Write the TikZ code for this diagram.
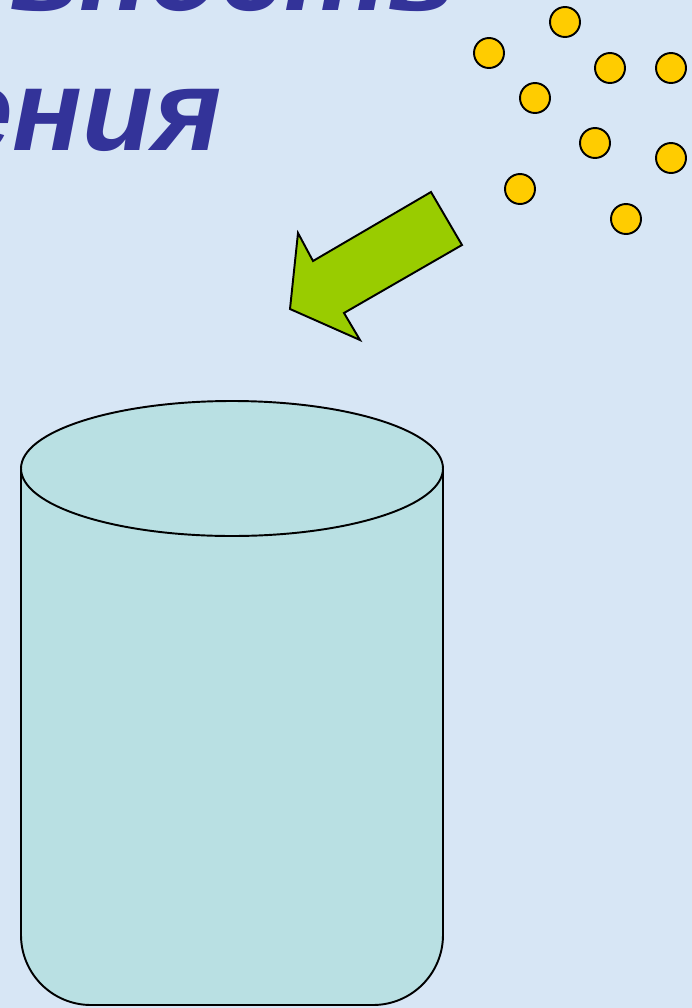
\documentclass[tikz,border=0pt]{standalone}
\usepackage{fontspec}
\setmainfont{Liberation Sans}
\definecolor{bgblue}{RGB}{215,230,245}
\definecolor{titleblue}{RGB}{51,51,153}
\definecolor{dotyellow}{RGB}{255,204,0}
\definecolor{arrowgreen}{RGB}{153,204,0}
\definecolor{jarcyan}{RGB}{185,224,227}
\tikzset{
  dot/.style={draw=black,line width=1.1pt,fill=dotyellow},
  title/.style={text=titleblue,font=\fontsize{66}{70}\selectfont\bfseries\itshape,inner sep=0pt}
}
\begin{document}
\begin{tikzpicture}[x=0.02cm,y=-0.02cm]
  \useasboundingbox (0,0) rectangle (692,1008);
  \clip (0,0) rectangle (692,1008);
  \fill[bgblue] (0,0) rectangle (692,1008);
  % title, cut off at the page edge
  \node[title,anchor=base east] (line1) at (457,10) {вность};
  \node[title,anchor=base east] (line2) at (222,150) {ения};
  % particles
  \foreach \px/\py in {565/22,489/53,610/68,671/68,535/98,595/143,671/158,520/189,626/219}
    \draw[dot] (\px,\py) circle[radius=15];
  % arrow
  \draw[line width=1.1pt,fill=arrowgreen,line join=miter]
    (431,192)--(462,245)--(344,313)--(360,340)--(290,309)--(298,233)--(313,261)--cycle;
  % jar
  \def\r{70}
  \draw[line width=1.1pt,fill=jarcyan]
    (21,468)--(21,1005-\r) arc[start angle=180,end angle=90,radius=\r]
    --(443-\r,1005) arc[start angle=90,end angle=0,radius=\r]--(443,468);
  \draw[line width=1.1pt,fill=jarcyan] (232,468.5) ellipse[x radius=211,y radius=67.5];
\end{tikzpicture}
\end{document}
